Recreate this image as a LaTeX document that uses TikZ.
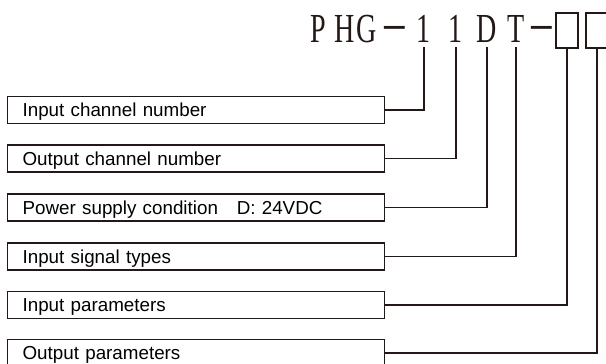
\documentclass[tikz,border=0pt]{standalone}
\usepackage{graphicx}
\usepackage{fontspec}
\setmainfont{Liberation Sans}
\newfontfamily\titlefont{Liberation Serif}
\usetikzlibrary{positioning}
\definecolor{inkdark}{RGB}{35,24,21}
\newcommand{\narrowchar}[1]{\scalebox{0.68}[1]{#1}}

\begin{document}
\begin{tikzpicture}[
  x=0.02cm, y=-0.02cm,
  titlechar/.style={font=\titlefont\fontsize{23.5}{25}\selectfont,text=inkdark,
    anchor=base,inner xsep=0pt,inner ysep=0.1cm},
  sqbox/.style={draw=inkdark,line width=0.7pt,minimum width=0.44cm,
    minimum height=0.7cm,inner sep=0pt},
  itembox/.style={draw=inkdark,line width=0.7pt,anchor=west,align=left,
    text width=6.94cm,inner xsep=0.3cm,inner ysep=0pt,minimum height=0.54cm,
    text height=0.27cm,text depth=0pt,font=\fontsize{10.7}{12}\selectfont},
  link/.style={draw=inkdark,line width=0.7pt}
]
  \useasboundingbox (0,0) rectangle (606,363);
  % Model code header
  \node[titlechar] (tP) at (318,42) {\narrowchar{P}};
  \node[titlechar] (tH) at (345,42) {\narrowchar{H}};
  \node[titlechar] (tG) at (367,42) {\narrowchar{G}};
  \node[titlechar] (tdashA) at (395,37.5) {\bfseries\scalebox{0.5}[1]{—}};
  \node[titlechar] (tinch) at (424,42) {\narrowchar{1}};
  \node[titlechar] (toutch) at (456,42) {\narrowchar{1}};
  \node[titlechar] (tpower) at (487,42) {\narrowchar{D}};
  \node[titlechar] (tsig) at (516,42) {\narrowchar{T}};
  \node[titlechar] (tdashB) at (542,37.5) {\bfseries\scalebox{0.5}[1]{—}};
  \node[sqbox] (sqinpar) at (567,30.5) {};
  \node[sqbox] (sqoutpar) at (597,30.5) {};
  % Description boxes
  \node[itembox] (inch) at (7,110) {Input channel number};
  \node[itembox] (outch) at (7,158.5) {Output channel number};
  \node[itembox] (power) at (7,207.5) {Power supply condition\quad D: 24VDC};
  \node[itembox] (sigtype) at (7,256.5) {Input signal types};
  \node[itembox] (inpar) at (7,305) {Input parameters};
  \node[itembox] (outpar) at (7,353) {Output parameters};
  % Leader lines
  \draw[link] (tinch.south) |- (inch.east);
  \draw[link] (toutch.south) |- (outch.east);
  \draw[link] (tpower.south) |- (power.east);
  \draw[link] (tsig.south) |- (sigtype.east);
  \draw[link] (sqinpar.south) |- (inpar.east);
  \draw[link] (sqoutpar.south) |- (outpar.east);
\end{tikzpicture}
\end{document}
